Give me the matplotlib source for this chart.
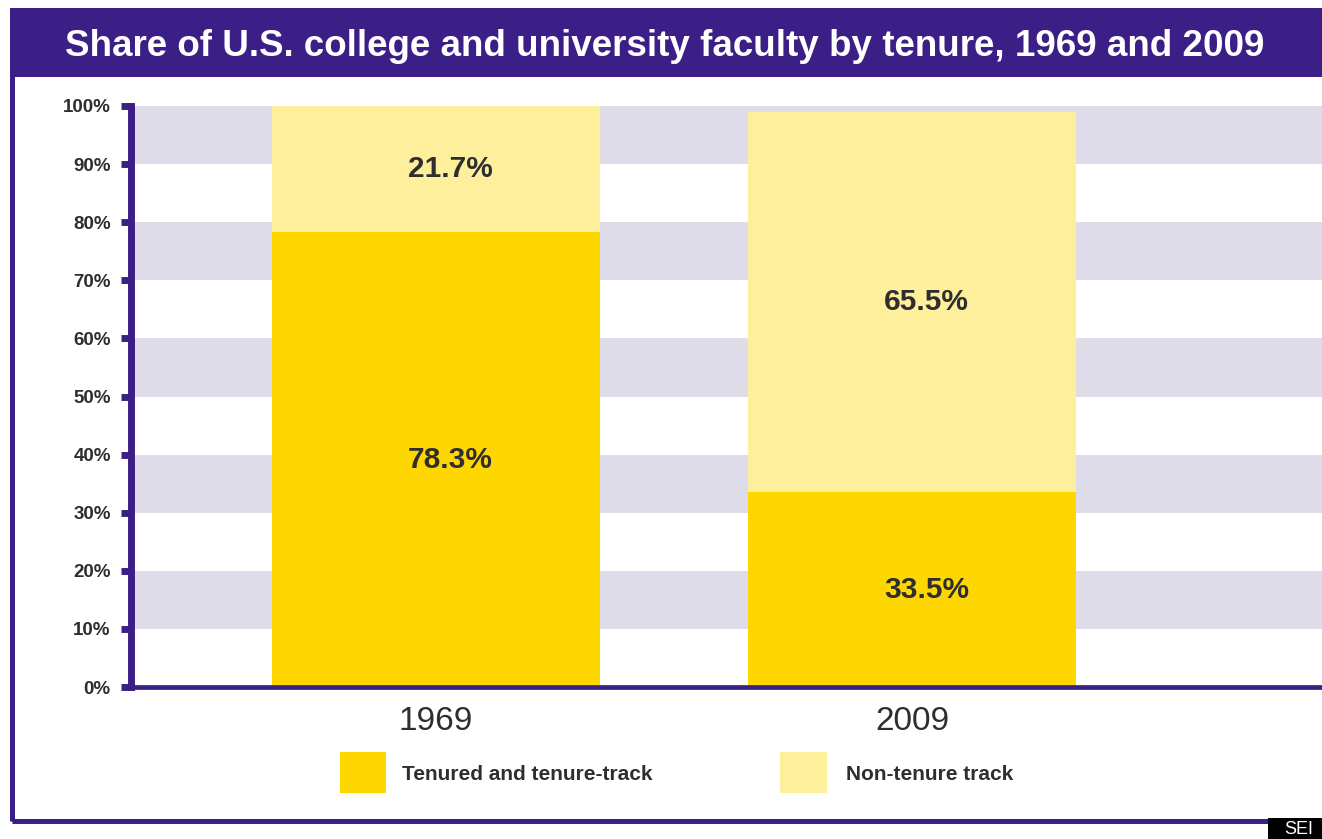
import matplotlib
matplotlib.use("Agg")
import matplotlib.pyplot as plt
from matplotlib.patches import Rectangle

# data
years = ["1969", "2009"]
tenured = [78.3, 33.5]
non_tenure = [21.7, 65.5]
series_names = ["Tenured and tenure-track", "Non-tenure track"]
yticks = [0, 10, 20, 30, 40, 50, 60, 70, 80, 90, 100]
title = "Share of U.S. college and university faculty by tenure, 1969 and 2009"

purple = "#3c1f86"
gold = "#ffd700"
pale = "#fdef9c"
band = "#dfdcea"
ink = "#2e2e2e"

plt.rcParams["font.family"] = ["Liberation Sans", "DejaVu Sans"]

W, H = 1322, 839
fig = plt.figure(figsize=(W / 100, H / 100), dpi=100)

def fx(px):
    return px / W

def fy(py):
    return 1 - py / H

# outer frame + title band
fig.patches.append(Rectangle((fx(12), fy(821)), 1.05, fy(10) - fy(821), transform=fig.transFigure,
                             fill=False, edgecolor=purple, linewidth=3.6, zorder=0))
fig.patches.append(Rectangle((fx(10), fy(77)), 1.05, fy(8) - fy(77), transform=fig.transFigure,
                             facecolor=purple, edgecolor="none", zorder=1))
fig.text(fx(665), fy(46), title, color="white", fontsize=26.5, fontweight="bold",
         ha="center", va="center")

# axes
ax = fig.add_axes([fx(131), fy(687), 1 - fx(131), fy(106) - fy(687)])
x = [0, 1]
ax.set_xlim(-0.64, 1.86)
ax.set_ylim(0, 100)

for lo in range(10, 100, 20):
    ax.axhspan(lo, lo + 10, color=band, lw=0, zorder=0)

ax.bar(x, tenured, width=0.688, color=gold, zorder=2)
ax.bar(x, non_tenure, width=0.688, bottom=tenured, color=pale, zorder=2)

for i in range(len(x)):
    ax.text(x[i] + 0.03, tenured[i] / 2, f"{tenured[i]}%", ha="center", va="center",
            fontsize=21.5, fontweight="bold", color=ink, zorder=3)
    ax.text(x[i] + 0.03, tenured[i] + non_tenure[i] / 2, f"{non_tenure[i]}%", ha="center",
            va="center", fontsize=21.5, fontweight="bold", color=ink, zorder=3)

ax.set_yticks(yticks)
ax.set_yticklabels([f"{t}%" for t in yticks])
ax.tick_params(axis="y", length=7.5, width=5, color=purple, labelsize=13.5, labelcolor=ink, pad=7)
for lab in ax.get_yticklabels():
    lab.set_fontweight("bold")
ax.set_xticks(x)
ax.set_xticklabels(years)
ax.tick_params(axis="x", length=0, labelsize=24, labelcolor=ink, pad=14)

for s in ["top", "right"]:
    ax.spines[s].set_visible(False)
ax.spines["left"].set_color(purple)
ax.spines["left"].set_linewidth(5)
ax.spines["bottom"].set_color(purple)
ax.spines["bottom"].set_linewidth(3.4)
ax.set_axisbelow(False)

# legend
fig.patches.append(Rectangle((fx(340), fy(793)), fx(46), fy(752) - fy(793), transform=fig.transFigure,
                             facecolor=gold, edgecolor="none"))
fig.text(fx(402), fy(775), series_names[0], fontsize=15, fontweight="bold", color=ink,
         ha="left", va="center")
fig.patches.append(Rectangle((fx(780), fy(793)), fx(47), fy(752) - fy(793), transform=fig.transFigure,
                             facecolor=pale, edgecolor="none"))
fig.text(fx(846), fy(775), series_names[1], fontsize=15, fontweight="bold", color=ink,
         ha="left", va="center")

# cropped watermark box in the corner
fig.patches.append(Rectangle((fx(1268), 0), 1, fy(818), transform=fig.transFigure,
                             facecolor="black", edgecolor="none"))
fig.text(fx(1284), fy(829), "SEI", color="white", fontsize=13, ha="left", va="center")

fig.savefig("out.png", dpi=100)
